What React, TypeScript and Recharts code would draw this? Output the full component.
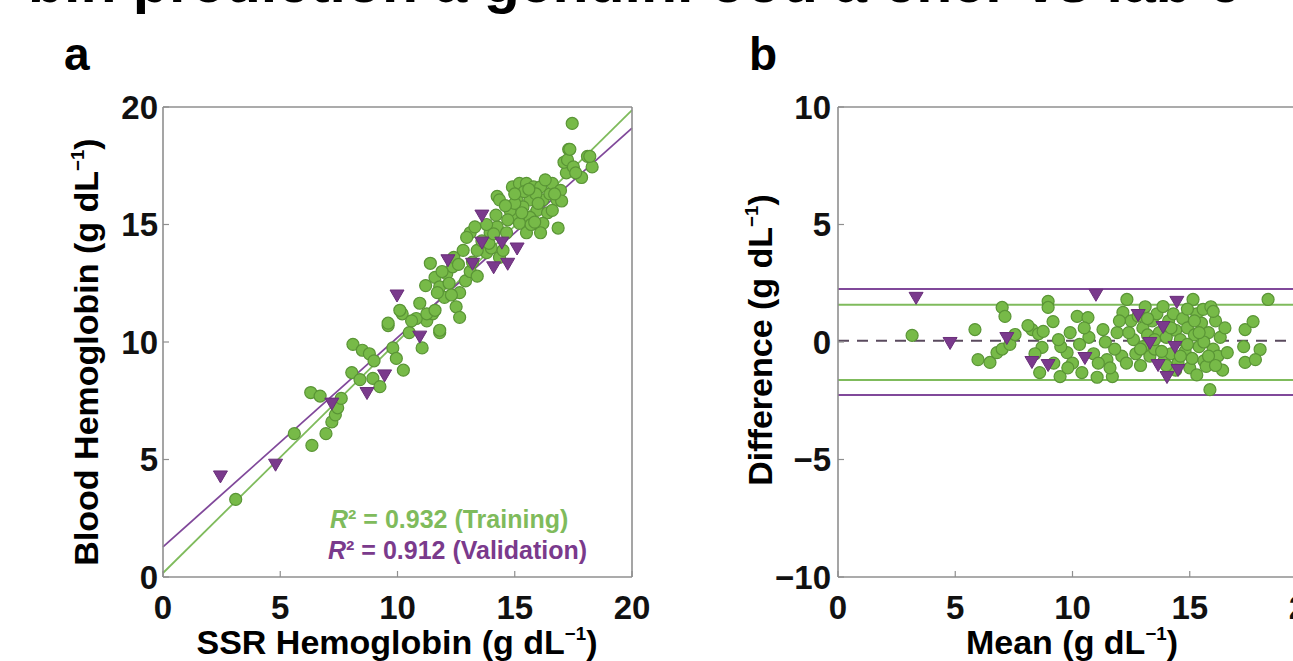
import React from 'react';
import { ScatterChart, Scatter, XAxis, YAxis, ReferenceLine } from 'recharts';

const FONT = '"Liberation Sans", Arial, Helvetica, sans-serif';
const GREEN = '#77ba48';
const GREEN_EDGE = '#5a9536';
const GREEN_LINE = '#7fbb5c';
const PURPLE = '#7a3a8c';
const PURPLE_LINE = '#80489a';
const AXIS = '#8f8f8f';

const hbTicks = [0, 5, 10, 15, 20];
const diffTicks = [-10, -5, 0, 5, 10];

// Panel a: SSR hemoglobin (x) vs blood hemoglobin (y)
const trainPoints: [number, number][] = [
  [3.1, 3.3], [5.6, 6.1], [6.35, 5.6], [6.95, 6.1], [7.2, 6.6], [7.35, 6.9], [7.45, 7.2], [6.3, 7.85], [6.7, 7.7], [7.6, 7.6],
  [8.05, 8.7], [8.4, 8.4], [8.95, 8.45], [9.25, 8.1], [8.1, 9.9], [8.5, 9.65], [8.8, 9.5], [9.0, 9.2], [9.6, 10.7], [10.2, 11.2],
  [9.8, 9.75], [9.95, 9.3], [10.25, 8.8], [11.05, 9.75], [11.8, 10.4], [11.25, 10.9], [11.5, 11.2], [10.1, 11.35], [9.6, 10.8], [10.5, 10.4],
  [10.8, 11.0], [11.4, 13.35], [11.6, 12.75], [11.8, 12.35], [12.1, 12.9], [12.35, 13.2], [12.65, 12.1], [12.5, 11.5], [12.65, 11.05], [11.8, 10.5],
  [10.95, 11.65], [11.25, 11.2], [11.6, 11.35], [12.0, 11.9], [12.2, 12.5], [12.9, 12.6], [13.1, 13.0], [13.4, 12.8], [12.4, 13.6], [11.9, 13.0],
  [13.1, 14.65], [13.3, 14.9], [12.95, 14.45], [13.95, 14.65], [14.25, 14.9], [14.65, 14.65], [13.8, 13.8], [14.35, 13.6], [13.4, 13.9], [13.6, 14.3],
  [14.0, 14.0], [14.2, 15.4], [13.8, 15.0], [14.9, 15.3], [14.5, 13.9], [14.25, 16.2], [14.9, 16.6], [15.2, 16.75], [15.5, 16.75], [15.8, 16.6],
  [16.1, 16.6], [15.1, 16.05], [15.65, 16.05], [15.35, 15.75], [15.95, 15.6], [16.2, 16.05], [14.8, 15.6], [14.35, 16.05], [16.4, 15.5], [15.65, 15.3],
  [15.2, 15.05], [16.2, 15.05], [14.7, 15.2], [16.1, 14.65], [15.5, 14.65], [15.0, 15.9], [15.9, 16.3], [15.4, 16.4], [16.5, 16.3], [15.7, 15.0],
  [16.0, 15.9], [16.6, 16.75], [16.95, 16.45], [16.8, 16.05], [17.2, 17.2], [17.85, 17.0], [16.85, 14.85], [17.45, 19.3], [17.3, 18.2], [17.1, 17.65],
  [17.25, 17.75], [17.5, 17.45], [18.1, 17.9], [18.3, 17.45], [17.6, 17.2], [17.0, 16.0], [16.6, 15.6], [18.2, 17.9], [17.35, 18.2],
  [11.2, 12.4], [11.7, 12.1], [12.3, 12.0], [12.8, 13.9], [13.2, 13.4], [13.9, 14.2], [14.6, 15.8], [15.0, 16.3], [15.6, 16.5], [16.3, 16.9],
  [15.3, 15.5], [14.1, 14.6], [16.7, 16.3], [12.6, 13.3], [10.6, 10.9], [15.85, 15.1],
];

const validationPoints: [number, number][] = [
  [2.45, 4.3], [4.8, 4.8], [7.2, 7.4], [8.7, 7.85], [9.45, 8.6], [10.95, 10.25], [9.98, 12.0], [12.15, 13.5],
  [13.6, 15.4], [13.6, 14.25], [13.2, 13.35], [14.1, 13.2], [14.45, 14.25], [14.7, 13.35], [15.1, 14.0],
];

// Fitted lines read at the two plot edges (x = 0 and x = 20)
const trainFit = [{ x: 0, y: 0.17 }, { x: 20, y: 19.87 }];
const validationFit = [{ x: 0, y: 1.28 }, { x: 20, y: 19.1 }];

// Panel b: mean (x) vs difference (y)
const trainDiffPoints: [number, number][] = [
  [3.16, 0.28], [5.84, 0.53], [5.97, -0.75], [6.48, -0.87], [7.0, 1.47], [7.12, 1.09], [6.78, -0.45], [7.0, -0.3], [7.33, -0.1], [7.55, 0.32],
  [8.27, 0.53], [8.55, 0.35], [8.75, 0.45], [8.96, 1.73], [8.96, 1.47], [9.17, 0.87], [8.7, -0.23], [8.6, -1.3], [9.47, -1.47], [9.77, -0.45],
  [9.5, -0.2], [9.9, 0.4], [10.2, 1.09], [10.66, 1.04], [10.4, -1.3], [11.05, -1.5], [11.7, -1.47], [11.3, 0.53], [11.9, 0.4], [12.15, 1.26],
  [12.32, 1.81], [11.47, -0.75], [12.1, -0.6], [8.1, 0.7], [8.4, -0.5], [9.2, -0.9], [9.4, 0.1], [10.0, -0.9], [10.3, -0.1], [10.7, 0.2],
  [10.9, -0.5], [11.1, -0.9], [11.6, -1.1], [11.8, -0.3], [12.3, -0.9], [12.5, 0.9], [12.6, 0.1], [12.7, -0.5], [12.9, -1.0], [13.0, 0.6],
  [13.1, 1.5], [13.2, 0.3], [13.3, -0.6], [13.4, 0.9], [13.5, -0.3], [13.6, 1.2], [13.7, 0.4], [13.86, 1.51], [13.9, -0.8], [14.0, 0.2],
  [14.1, 0.9], [14.2, -0.5], [14.3, 1.2], [14.4, 0.5], [14.5, -0.9], [14.6, 0.1], [14.7, 1.0], [14.8, -0.4], [14.9, 0.6], [15.0, -1.1],
  [15.1, -0.7], [15.14, 1.81], [15.2, 0.3], [15.3, 1.2], [15.4, -0.2], [15.5, 0.8], [15.57, 1.39], [15.6, -0.8], [15.7, -1.04], [15.8, 0.4],
  [15.9, 1.5], [15.86, -2.03], [16.0, -0.3], [16.1, 0.9], [16.2, -0.6], [16.3, 0.2], [16.4, -1.2], [16.6, -0.45], [16.5, 0.6], [17.36, 0.53],
  [17.7, 0.87], [17.3, -0.2], [18.0, -0.32], [17.36, -0.87], [17.8, -0.75], [18.34, 1.81], [12.0, 0.9], [12.8, 1.1], [13.0, -0.2], [14.4, -1.2],
  [14.9, 1.4], [15.3, -1.4], [15.6, 0.0], [16.0, 1.3],
  [12.4, 0.4], [12.9, -0.3], [13.2, 1.0], [13.5, 0.1], [13.8, -0.4], [14.2, 0.6], [14.6, -0.6], [14.9, -0.1], [15.2, 0.9], [15.4, 0.4],
  [15.8, -0.6], [16.1, -1.0], [14.0, -1.0], [11.4, 0.0], [10.5, 0.6], [9.8, -1.1],
];

const validationDiffPoints: [number, number][] = [
  [3.33, 1.9], [4.78, -0.02], [11.0, 2.03], [14.45, 1.73], [12.8, 1.17], [7.2, 0.19], [8.27, -0.83], [8.96, -0.96],
  [10.53, -0.66], [13.3, -0.02], [13.86, 0.66], [14.37, -0.19], [13.65, -0.96], [14.03, -1.47], [14.5, -1.17],
];

// Bland-Altman reference levels
const meanDiff = 0.05;
const trainLimits = [1.58, -1.62];
const validationLimits = [2.26, -2.26];

const toXY = (arr: [number, number][]) => arr.map(([x, y]) => ({ x, y }));

const tickStyle = { fill: '#111', fontSize: 33, fontWeight: 700, fontFamily: FONT };

const GreenDot = (p: any) => (
  <circle cx={p.cx} cy={p.cy} r={6} fill={GREEN} stroke={GREEN_EDGE} strokeWidth={1.2} />
);
const PurpleTri = (p: any) => (
  <path
    d={`M${p.cx - 7},${p.cy - 5} L${p.cx + 7},${p.cy - 5} L${p.cx},${p.cy + 7} Z`}
    fill={PURPLE}
    stroke="#6a2f7a"
    strokeWidth={1}
  />
);

const minus = (v: number) => String(v).replace('-', '\u2212');

const CHART_W = 660;
const CHART_H = 661;
const MARGIN = { top: 106, right: 27, bottom: 0, left: 0 };

export default function App() {
  const axisLine = { stroke: AXIS, strokeWidth: 1.6 };
  const tickLine = { stroke: AXIS, strokeWidth: 1.2 };
  const unit = (sz: number) => (
    <>
      <tspan>(g dL</tspan>
      <tspan dy={-sz * 0.4} fontSize={sz * 0.55}>{'\u22121'}</tspan>
      <tspan dy={sz * 0.4}>)</tspan>
    </>
  );
  return (
    <div style={{ position: 'absolute', left: 0, top: 0, width: 1293, height: 661, overflow: 'hidden', background: '#fff' }}>
      <div style={{ position: 'absolute', left: 0, top: 0 }}>
        <ScatterChart width={CHART_W} height={CHART_H} margin={MARGIN}>
          <XAxis xAxisId="b" dataKey="x" type="number" domain={[0, 20]} ticks={hbTicks} height={84}
            axisLine={axisLine} tickLine={tickLine} tickSize={-6} tickMargin={25} tick={tickStyle} allowDataOverflow />
          <XAxis xAxisId="t" orientation="top" dataKey="x" type="number" domain={[0, 20]} ticks={hbTicks} height={1}
            axisLine={axisLine} tickLine={tickLine} tickSize={-6} tick={false} />
          <YAxis yAxisId="l" dataKey="y" type="number" domain={[0, 20]} ticks={hbTicks} width={163}
            axisLine={axisLine} tickLine={tickLine} tickSize={-6} tickMargin={11} tick={tickStyle} allowDataOverflow />
          <YAxis yAxisId="r" orientation="right" dataKey="y" type="number" domain={[0, 20]} ticks={hbTicks} width={1}
            axisLine={axisLine} tickLine={tickLine} tickSize={-6} tick={false} />
          <Scatter xAxisId="b" yAxisId="l" data={toXY(trainPoints)} shape={GreenDot} isAnimationActive={false} />
          <Scatter xAxisId="b" yAxisId="l" data={toXY(validationPoints)} shape={PurpleTri} isAnimationActive={false} />
          <ReferenceLine xAxisId="b" yAxisId="l" segment={trainFit} stroke={GREEN_LINE} strokeWidth={1.8} />
          <ReferenceLine xAxisId="b" yAxisId="l" segment={validationFit} stroke={PURPLE_LINE} strokeWidth={1.8} />
        </ScatterChart>
      </div>
      <div style={{ position: 'absolute', left: 675, top: 0 }}>
        <ScatterChart width={CHART_W} height={CHART_H} margin={MARGIN}>
          <XAxis xAxisId="b" dataKey="x" type="number" domain={[0, 20]} ticks={hbTicks} height={84}
            axisLine={axisLine} tickLine={tickLine} tickSize={-6} tickMargin={25} tick={tickStyle} allowDataOverflow />
          <XAxis xAxisId="t" orientation="top" dataKey="x" type="number" domain={[0, 20]} ticks={hbTicks} height={1}
            axisLine={axisLine} tickLine={tickLine} tickSize={-6} tick={false} />
          <YAxis yAxisId="l" dataKey="y" type="number" domain={[-10, 10]} ticks={diffTicks} width={163}
            axisLine={axisLine} tickLine={tickLine} tickSize={-6} tickMargin={13} tick={tickStyle}
            tickFormatter={minus} allowDataOverflow />
          <YAxis yAxisId="r" orientation="right" dataKey="y" type="number" domain={[-10, 10]} ticks={diffTicks} width={1}
            axisLine={axisLine} tickLine={tickLine} tickSize={-6} tick={false} />
          <ReferenceLine xAxisId="b" yAxisId="l" y={validationLimits[0]} stroke={PURPLE_LINE} strokeWidth={2} />
          <ReferenceLine xAxisId="b" yAxisId="l" y={validationLimits[1]} stroke={PURPLE_LINE} strokeWidth={2} />
          <ReferenceLine xAxisId="b" yAxisId="l" y={trainLimits[0]} stroke={GREEN_LINE} strokeWidth={2} />
          <ReferenceLine xAxisId="b" yAxisId="l" y={trainLimits[1]} stroke={GREEN_LINE} strokeWidth={2} />
          <ReferenceLine xAxisId="b" yAxisId="l" y={meanDiff} stroke="#5a4a5e" strokeWidth={2} strokeDasharray="11 8" />
          <Scatter xAxisId="b" yAxisId="l" data={toXY(trainDiffPoints)} shape={GreenDot} isAnimationActive={false} />
          <Scatter xAxisId="b" yAxisId="l" data={toXY(validationDiffPoints)} shape={PurpleTri} isAnimationActive={false} />
        </ScatterChart>
      </div>
      <svg width={1293} height={661} style={{ position: 'absolute', left: 0, top: 0, pointerEvents: 'none' }}
        fontFamily={FONT} fontWeight={700}>
        <text x={28} y={2} fontSize={59} fill="#000">bin prediction a genuini ood a cher vs lab c</text>
        <text x={64} y={70} fontSize={46} fill="#000">a</text>
        <text x={749} y={70} fontSize={46} fill="#000">b</text>
        <text x={397} y={654} fontSize={34} textAnchor="middle" fill="#000">SSR Hemoglobin {unit(34)}</text>
        <text x={1072} y={654} fontSize={34} textAnchor="middle" fill="#000">Mean {unit(34)}</text>
        <text transform="translate(98,352) rotate(-90)" fontSize={34} textAnchor="middle" fill="#000">
          Blood Hemoglobin {unit(34)}
        </text>
        <text transform="translate(772,340) rotate(-90)" fontSize={34} textAnchor="middle" fill="#000">
          Difference {unit(34)}
        </text>
        <text x={330} y={528} fontSize={25} fill={GREEN_LINE}>
          <tspan fontStyle="italic">R</tspan><tspan>{'\u00B2 = 0.932 (Training)'}</tspan>
        </text>
        <text x={328} y={559} fontSize={25} fill={PURPLE}>
          <tspan fontStyle="italic">R</tspan><tspan>{'\u00B2 = 0.912 (Validation)'}</tspan>
        </text>
      </svg>
    </div>
  );
}
